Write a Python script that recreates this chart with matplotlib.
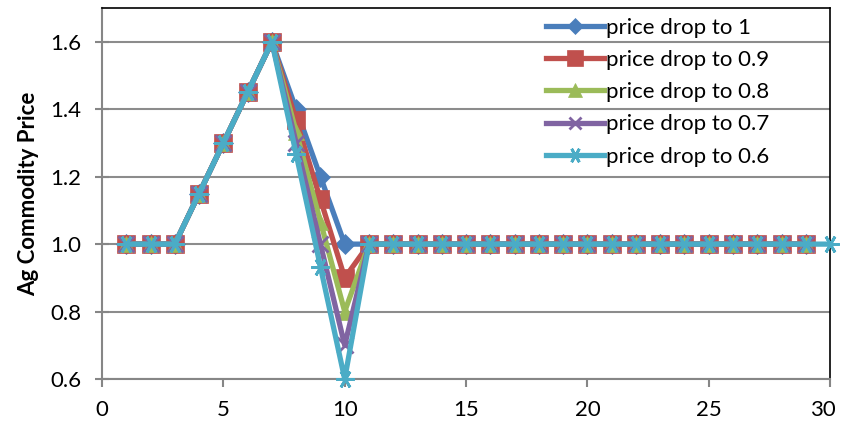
import numpy as np
import matplotlib
matplotlib.use("Agg")
import matplotlib.pyplot as plt
import matplotlib.transforms as mtransforms

plt.rcParams['font.family'] = ['Lato', 'DejaVu Sans']

# commodity price paths, periods 1..29 (last series runs to 30)
x_short = list(range(1, 30))
x_long = list(range(1, 31))

ramp = [1.0, 1.0, 1.0, 1.15, 1.3, 1.45, 1.6]
tail = [1.0] * 19

drop_1 = ramp + [1.4, 1.2, 1.0] + tail
drop_09 = ramp + [1.367, 1.133, 0.9] + tail
drop_08 = ramp + [1.333, 1.067, 0.8] + tail
drop_07 = ramp + [1.3, 1.0, 0.7] + tail
drop_06 = ramp + [1.267, 0.933, 0.6] + tail + [1.0]

labels = ["price drop to 1", "price drop to 0.9", "price drop to 0.8",
          "price drop to 0.7", "price drop to 0.6"]
colors = ["#4A7EBB", "#C0504D", "#9BBB59", "#8064A2", "#4BACC6"]
markers = ["D", "s", "^", "x", (6, 2, 90)]
msizes = [10, 13, 12, 11, 13]

fig = plt.figure(figsize=(8.41, 4.29), dpi=100)
ax = fig.add_axes([0.1213, 0.1166, 0.8657, 0.8645])

series = [(x_short, drop_1), (x_short, drop_09), (x_short, drop_08),
          (x_short, drop_07), (x_long, drop_06)]
for (xs, ys), lab, c, m, ms in zip(series, labels, colors, markers, msizes):
    ax.plot(xs, ys, color=c, lw=3.8, marker=m, markersize=ms,
            markeredgewidth=2 if m in ("x", (6, 2, 90)) else 0.5,
            markeredgecolor=c, label=lab, clip_on=False, zorder=3)

ax.set_xlim(0, 30)
ax.set_ylim(0.6, 1.7)
ax.set_xticks([0, 5, 10, 15, 20, 25, 30])
ax.set_yticks([0.6, 0.8, 1.0, 1.2, 1.4, 1.6])
ax.yaxis.set_major_formatter(matplotlib.ticker.FormatStrFormatter('%.1f'))
ax.grid(axis='y', color='#8c8c8c', lw=1.5)
ax.set_axisbelow(True)

for s in ('left', 'bottom'):
    ax.spines[s].set_color('#868686')
    ax.spines[s].set_linewidth(1.5)
for s in ('top', 'right'):
    ax.spines[s].set_color('black')
    ax.spines[s].set_linewidth(1.2)

ax.tick_params(axis='both', colors='#868686', width=1.5, length=6,
               labelcolor='black', labelsize=16, pad=9)
ax.tick_params(axis='y', direction='inout', length=10, pad=10)
ax.set_ylabel("Ag Commodity Price", fontsize=16, fontweight='bold', labelpad=8)

# nudge the "30" label so it stays inside the figure
last = ax.get_xticklabels()[-1]
last.set_transform(last.get_transform() +
                   mtransforms.ScaledTranslation(-5 / 72, 0, fig.dpi_scale_trans))

ax.legend(loc='upper right', frameon=False, fontsize=16, handlelength=2.6,
          handletextpad=0.1, labelspacing=0.55, borderaxespad=0.2,
          markerscale=0.85, bbox_to_anchor=(0.935, 1.01))

fig.savefig("out.png", dpi=100)
